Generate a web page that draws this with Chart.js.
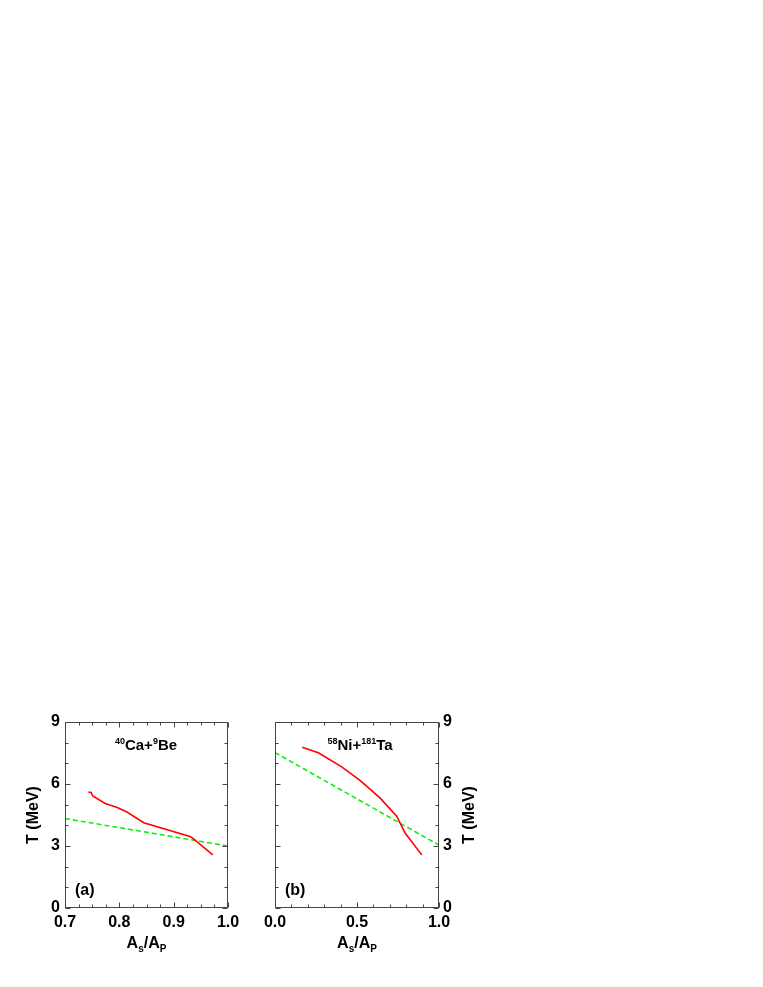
<!DOCTYPE html>
<html>
<head>
<meta charset="utf-8">
<script src="https://cdn.jsdelivr.net/npm/chart.js@4.4.0/dist/chart.umd.min.js"></script>
<style>
  html, body { margin: 0; padding: 0; background: #fff; }
  body { width: 763px; height: 987px; position: relative; overflow: hidden; }
  canvas { position: absolute; }
  #chartA { left: 0; top: 700px; }
  #chartB { left: 250px; top: 700px; }
</style>
</head>
<body>
<canvas id="chartA" width="250" height="287"></canvas>
<canvas id="chartB" width="263" height="287"></canvas>
<script>
//panel (a): 40Ca+9Be
const caRedX = [0.743, 0.748, 0.751, 0.774, 0.795, 0.813, 0.829, 0.845, 0.899, 0.930, 0.935, 0.972];
const caRedY = [5.61, 5.59, 5.42, 5.06, 4.87, 4.66, 4.39, 4.13, 3.70, 3.46, 3.38, 2.57];
const caGreenX = [0.7, 1.0];
const caGreenY = [4.33, 3.0];
const caXTicks = [0.7, 0.8, 0.9, 1.0];

//panel (b): 58Ni+181Ta
const niRedX = [0.166, 0.264, 0.407, 0.518, 0.640, 0.742, 0.793, 0.895];
const niRedY = [7.78, 7.51, 6.83, 6.18, 5.33, 4.44, 3.63, 2.57];
const niGreenX = [0.0, 1.0];
const niGreenY = [7.52, 3.04];
const niXTicks = [0.0, 0.5, 1.0];

const yTicks = [0, 3, 6, 9];

const FONT = '"Liberation Sans", Arial, sans-serif';

const toPoints = (xs, ys) => xs.map((x, i) => ({ x: x, y: ys[i] }));

//draw a run of text pieces, some raised or lowered
const drawRich = (ctx, parts, x, y, size) => {
  const small = Math.round(size * 0.62);
  const fontOf = (p) => 'bold ' + (p.s ? small : size) + 'px ' + FONT;
  let total = 0;
  parts.forEach((p) => { ctx.font = fontOf(p); total += ctx.measureText(p.t).width; });
  let cx = x - total / 2;
  ctx.textAlign = 'left';
  ctx.textBaseline = 'alphabetic';
  parts.forEach((p) => {
    ctx.font = fontOf(p);
    const dy = p.s === 'sup' ? -size * 0.42 : p.s === 'sub' ? size * 0.28 : 0;
    ctx.fillText(p.t, cx, y + dy);
    cx += ctx.measureText(p.t).width;
  });
};

//frame, inner ticks on all sides and the text around the panel
const framePlugin = {
  id: 'frame',
  afterDraw(chart, args, o) {
    const { ctx, chartArea: a, scales } = chart;
    const xs = scales.x, ys = scales.y;
    ctx.save();
    ctx.strokeStyle = '#454545';
    ctx.lineWidth = 1;
    const L = Math.round(a.left) + 0.5, R = Math.round(a.right) - 0.5;
    const T = Math.round(a.top) + 0.5, B = Math.round(a.bottom) - 0.5;
    ctx.strokeRect(L, T, R - L, B - T);

    ctx.beginPath();
    const nx = Math.round((xs.max - xs.min) / o.xStep);
    for (let i = 0; i <= nx; i++) {
      const v = xs.min + i * o.xStep;
      const major = o.xMajor.some((m) => Math.abs(m - v) < 1e-6);
      const len = major ? 5 : 3;
      const px = Math.round(xs.getPixelForValue(v)) + 0.5;
      ctx.moveTo(px, B); ctx.lineTo(px, B - len);
      ctx.moveTo(px, T); ctx.lineTo(px, T + len);
    }
    for (let v = ys.min; v <= ys.max; v += 1) {
      const major = yTicks.includes(v);
      const len = major ? 5 : 3;
      const py = Math.round(ys.getPixelForValue(v)) + 0.5;
      ctx.moveTo(L, py); ctx.lineTo(L + len, py);
      ctx.moveTo(R, py); ctx.lineTo(R - len, py);
    }
    ctx.stroke();

    ctx.fillStyle = '#000';
    //y title, read bottom to top
    ctx.save();
    ctx.translate(o.yTitleX, (a.top + a.bottom) / 2);
    ctx.rotate(-Math.PI / 2);
    ctx.font = 'bold 16px ' + FONT;
    ctx.textAlign = 'center';
    ctx.textBaseline = 'middle';
    ctx.fillText('T (MeV)', 0, 0);
    ctx.restore();

    //x title A_s/A_P
    drawRich(ctx, [{ t: 'A' }, { t: 's', s: 'sub' }, { t: '/A' }, { t: 'P', s: 'sub' }],
      (a.left + a.right) / 2, 248, 16);

    //reaction label
    drawRich(ctx, o.reaction, o.reactionX, 50, 15);

    //panel tag
    ctx.font = 'bold 16px ' + FONT;
    ctx.textAlign = 'left';
    ctx.textBaseline = 'alphabetic';
    ctx.fillText(o.tag, o.tagX, 194.5);
    ctx.restore();
  },
};

const tickFont = { family: FONT, size: 16, weight: 'bold' };

const makeChart = (id, red, green, xMin, xMax, xTicks, yPos, padding, yWidth, frame) => {
  return new Chart(document.getElementById(id), {
    type: 'line',
    data: {
      datasets: [
        {
          data: red,
          borderColor: '#ff0000',
          borderWidth: 1.6,
          pointRadius: 0,
          tension: 0,
          fill: false,
        },
        {
          data: green,
          borderColor: '#11ee11',
          borderWidth: 1.6,
          borderDash: [5, 3],
          pointRadius: 0,
          tension: 0,
          fill: false,
        },
      ],
    },
    options: {
      responsive: false,
      animation: false,
      events: [],
      layout: { padding: padding },
      plugins: { legend: { display: false }, tooltip: { enabled: false }, frame: frame },
      scales: {
        x: {
          type: 'linear',
          min: xMin,
          max: xMax,
          grid: { display: false, drawTicks: false },
          border: { display: false },
          afterBuildTicks: (s) => { s.ticks = xTicks.map((v) => ({ value: v })); },
          afterFit: (s) => { s.height = 79; s.paddingLeft = 0; s.paddingRight = 0; },
          ticks: {
            autoSkip: false,
            maxRotation: 0,
            padding: 5,
            color: '#000',
            font: tickFont,
            callback: (v) => Number(v).toFixed(1),
          },
        },
        y: {
          position: yPos,
          min: 0,
          max: 9,
          grid: { display: false, drawTicks: false },
          border: { display: false },
          afterBuildTicks: (s) => { s.ticks = yTicks.map((v) => ({ value: v })); },
          afterFit: (s) => { s.width = yWidth; s.paddingTop = 0; s.paddingBottom = 0; },
          ticks: {
            autoSkip: false,
            padding: yPos === 'left' ? 5 : 4,
            color: '#000',
            font: tickFont,
            callback: (v) => String(v),
          },
        },
      },
    },
    plugins: [framePlugin],
  });
};

makeChart('chartA',
  toPoints(caRedX, caRedY), toPoints(caGreenX, caGreenY),
  0.7, 1.0, caXTicks, 'left',
  { top: 22, left: 0, right: 22, bottom: 0 }, 65,
  {
    xStep: 0.025, xMajor: caXTicks, yTitleX: 34,
    reaction: [{ t: '40', s: 'sup' }, { t: 'Ca+' }, { t: '9', s: 'sup' }, { t: 'Be' }],
    reactionX: 146, tag: '(a)', tagX: 75,
  });

makeChart('chartB',
  toPoints(niRedX, niRedY), toPoints(niGreenX, niGreenY),
  0.0, 1.0, niXTicks, 'right',
  { top: 22, left: 25, right: 0, bottom: 0 }, 74,
  {
    xStep: 0.1, xMajor: niXTicks, yTitleX: 220,
    reaction: [{ t: '58', s: 'sup' }, { t: 'Ni+' }, { t: '181', s: 'sup' }, { t: 'Ta' }],
    reactionX: 110, tag: '(b)', tagX: 35,
  });
</script>
</body>
</html>
